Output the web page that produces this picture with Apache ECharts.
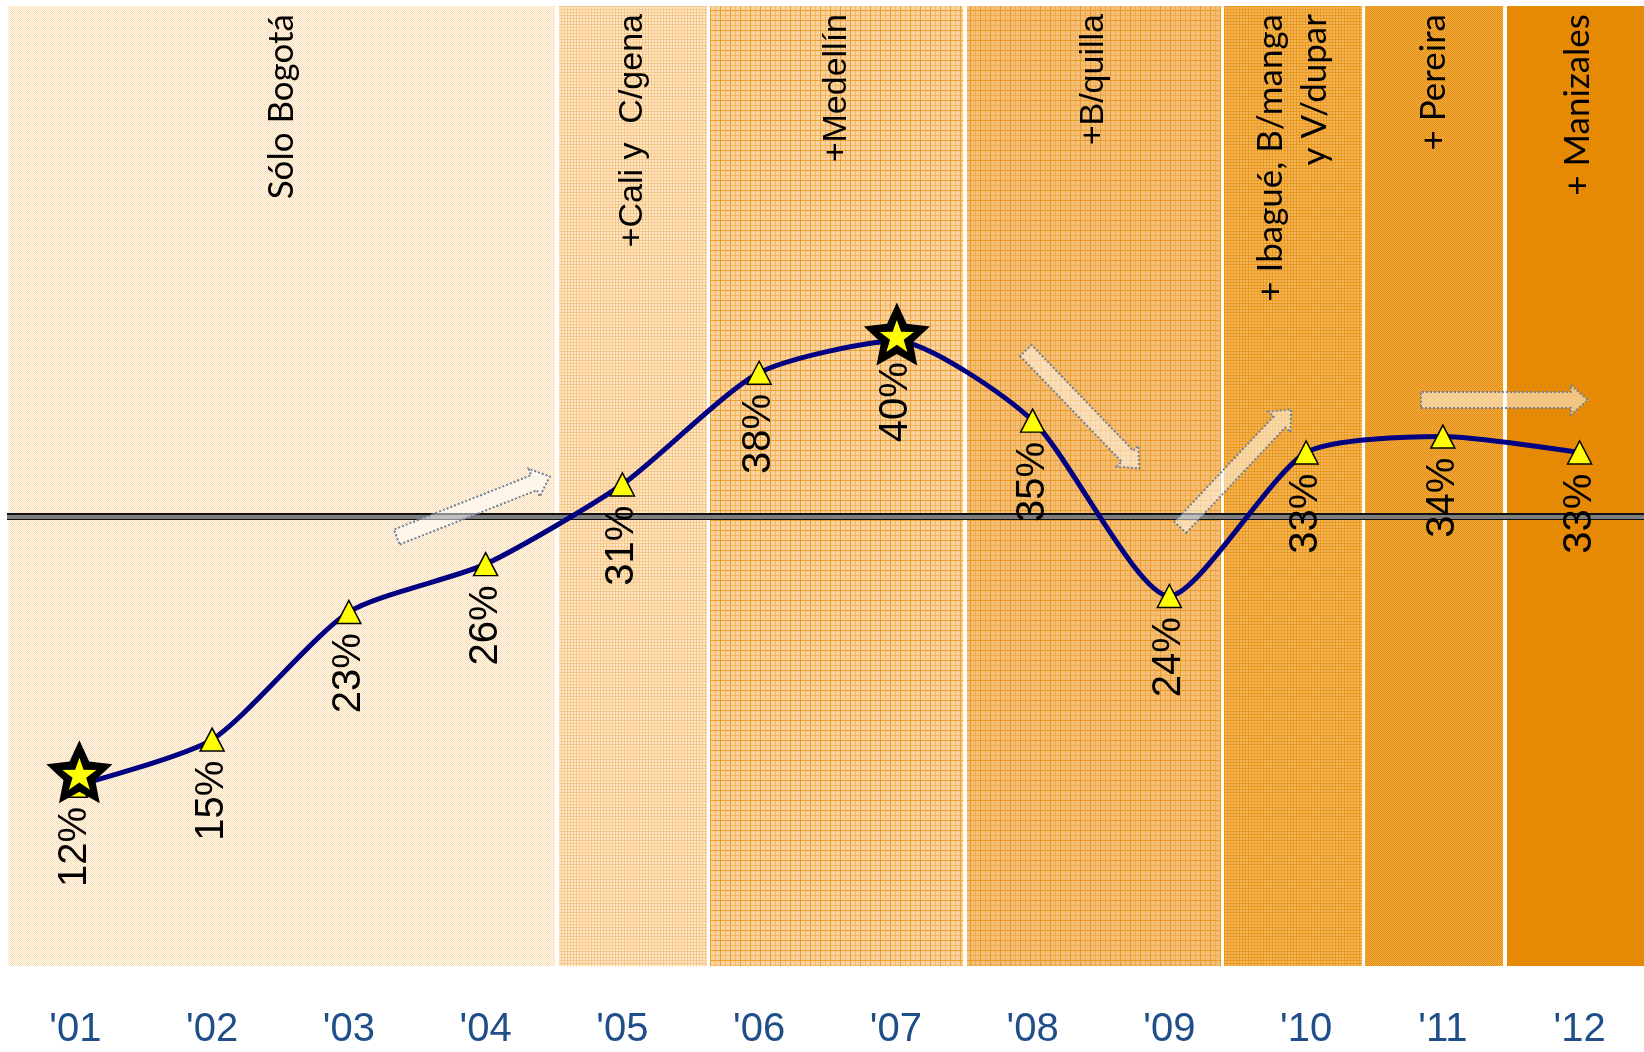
<!DOCTYPE html>
<html>
<head>
<meta charset="utf-8">
<title>Cobertura por ciudad</title>
<script src="https://cdn.jsdelivr.net/npm/echarts@6/dist/echarts.min.js"></script>
<style>
  html, body { margin: 0; padding: 0; background: #fff; }
  #chart { width: 1644px; height: 1052px; }
</style>
</head>
<body>
<div id="chart"></div>
<script>
// años y porcentaje
const years = ["'01", "'02", "'03", "'04", "'05", "'06", "'07", "'08", "'09", "'10", "'11", "'12"];
const values = [12.1, 15, 23, 26, 31, 38, 40, 35, 24, 33, 34, 33];
const starYears = ["'01", "'07"];
const refLine = 29;

// etapas (posición sobre el eje de años, -0.5 .. 11.5)
const stageNames = [
  "Sólo Bogotá",
  "+Cali y  C/gena",
  "+Medellín",
  "+B/quilla",
  "+ Ibagué, B/manga\ny V/dupar",
  "+ Pereira",
  "+ Manizales",
];
const stageStart = [-0.49, 3.537, 4.641, 6.52, 8.399, 9.431, 10.469];
const stageEnd = [3.507, 4.619, 6.491, 8.378, 9.409, 10.44, 11.5];

// flechas de tendencia [x0, y0, x1, y1]
const arrows = [
  [2.35, 27.7, 3.47, 31.5],
  [6.95, 39.4, 7.78, 32.0],
  [8.08, 28.3, 8.89, 35.7],
  [9.84, 36.3, 11.06, 36.3],
];

// texturas de las bandas
function tile(size, bg, paint) {
  const c = document.createElement("canvas");
  c.width = c.height = size;
  const ctx = c.getContext("2d");
  ctx.fillStyle = bg;
  ctx.fillRect(0, 0, size, size);
  if (paint) paint(ctx);
  return { image: c, repeat: "repeat" };
}
function checker(a, b) {
  return tile(2, a, (ctx) => {
    ctx.fillStyle = b;
    ctx.fillRect(0, 0, 1, 1);
    ctx.fillRect(1, 1, 1, 1);
  });
}
function grid(size, bg, line, sub) {
  return tile(size, bg, (ctx) => {
    if (sub) {
      ctx.fillStyle = sub;
      ctx.fillRect(size / 2, 0, 1, size);
      ctx.fillRect(0, size / 2, size, 1);
    }
    ctx.fillStyle = line;
    ctx.fillRect(0, 0, size, 1);
    ctx.fillRect(0, 0, 1, size);
  });
}
const bandFills = [
  checker("#fffaf2", "#fbdcb2"),
  grid(3, "#fde7c8", "#f6c88a"),
  grid(10, "#f8d29f", "#ef9f2e", "#f3b766"),
  grid(10, "#f4be76", "#ec9a26", "#f0ad50"),
  grid(3, "#f3b660", "#ec9a1e"),
  checker("#efac48", "#e68e0c"),
  "#e68a05",
];
const calibriLike = [0, 4, 5, 6];
const starOffsets = [[4, -14], [1, -7]];

function starPath(r) {
  const pts = [];
  for (let i = 0; i < 10; i++) {
    const a = -Math.PI / 2 + (i * Math.PI) / 5;
    const rad = i % 2 ? 50 * r : 50;
    pts.push((50 + rad * Math.cos(a)).toFixed(2) + "," + (50 + rad * Math.sin(a)).toFixed(2));
  }
  return "path://M" + pts.join("L") + "Z";
}

function renderArrow(params, api) {
  const p0 = api.coord([api.value(0), api.value(1)]);
  const p1 = api.coord([api.value(2), api.value(3)]);
  const dx = p1[0] - p0[0];
  const dy = p1[1] - p0[1];
  const len = Math.sqrt(dx * dx + dy * dy);
  const ux = dx / len, uy = dy / len;
  const nx = -uy, ny = ux;
  const w = 8, hw = 15, hl = 17;
  const bx = p1[0] - ux * hl, by = p1[1] - uy * hl;
  const pt = (x, y, s) => [x + nx * s, y + ny * s];
  return {
    type: "polygon",
    shape: {
      points: [
        pt(p0[0], p0[1], w), pt(bx, by, w), pt(bx, by, hw), p1,
        pt(bx, by, -hw), pt(bx, by, -w), pt(p0[0], p0[1], -w),
      ],
    },
    style: {
      fill: "rgba(255,255,255,0.5)",
      stroke: "#6f819b",
      lineWidth: 2,
      lineDash: [2, 2],
    },
  };
}

function starData(dy) {
  return starYears.map((y, i) => ({
    value: [y, values[years.indexOf(y)]],
    symbolOffset: [starOffsets[i][0], starOffsets[i][1] + dy],
  }));
}

const chart = echarts.init(document.getElementById("chart"));
const option = {
  animation: false,
  backgroundColor: "#fff",
  grid: { left: 7, top: 6, width: 1641, height: 960, outerBoundsMode: "none" },
  xAxis: [
    {
      type: "category",
      data: years,
      axisLine: { show: false },
      axisTick: { show: false },
      splitLine: { show: false },
      axisLabel: {
        color: "#1f4e89",
        fontSize: 40,
        fontFamily: "Liberation Sans, Arial, sans-serif",
        margin: 44,
        interval: 0,
      },
    },
    { type: "value", min: -0.5, max: 11.5, show: false },
  ],
  yAxis: { type: "value", min: 0.8, max: 61, show: false },
  series: [
    {
      // bandas, línea de referencia y flechas
      type: "custom",
      xAxisIndex: 1,
      z: 3,
      renderItem: renderArrow,
      encode: { x: [0, 2], y: [1, 3] },
      data: arrows,
      silent: true,
      markArea: {
        silent: true,
        z: 1,
        data: stageNames.map((name, i) => [
          {
            name: name,
            xAxis: stageStart[i],
            itemStyle: { color: bandFills[i], opacity: 1 },
            label: {
              show: true,
              position: "insideTop",
              distance: 8,
              rotate: 90,
              align: "right",
              verticalAlign: "middle",
              color: "#000",
              fontSize: calibriLike.includes(i) ? 35 : 34,
              fontFamily: calibriLike.includes(i)
                ? "Lato, Open Sans, sans-serif"
                : "Liberation Sans, Arial, sans-serif",
              lineHeight: 44,
            },
          },
          { xAxis: stageEnd[i] },
        ]),
      },
      markLine: {
        silent: true,
        z: 2,
        symbol: "none",
        label: { show: false },
        data: [
          { yAxis: refLine, lineStyle: { color: "#111", width: 7, type: "solid", opacity: 1 } },
          { yAxis: refLine, lineStyle: { color: "#7d7d7d", width: 4, type: "solid", opacity: 1 } },
        ],
      },
    },
    {
      type: "line",
      z: 4,
      data: values,
      smooth: 0.22,
      lineStyle: { color: "#000080", width: 5 },
      symbol: "triangle",
      symbolSize: [24, 23],
      itemStyle: { color: "#ffff00", borderColor: "#000", borderWidth: 1.5, opacity: 1 },
      label: {
        show: true,
        position: "bottom",
        distance: 9,
        rotate: 90,
        align: "right",
        verticalAlign: "middle",
        color: "#000",
        fontSize: 40,
        fontFamily: "Liberation Sans, Arial, sans-serif",
        formatter: (p) => Math.round(p.value) + "%",
      },
    },
    {
      type: "scatter",
      z: 5,
      data: starData(0),
      symbol: starPath(0.48),
      symbolSize: [66, 63],
      itemStyle: { color: "#000", opacity: 1 },
      silent: true,
    },
    {
      type: "scatter",
      z: 6,
      data: starData(2),
      symbol: starPath(0.4),
      symbolSize: [34, 32],
      itemStyle: { color: "#ffff00", opacity: 1 },
      silent: true,
    },
  ],
};
chart.setOption(option);
window.addEventListener("resize", () => chart.resize());
</script>
</body>
</html>
